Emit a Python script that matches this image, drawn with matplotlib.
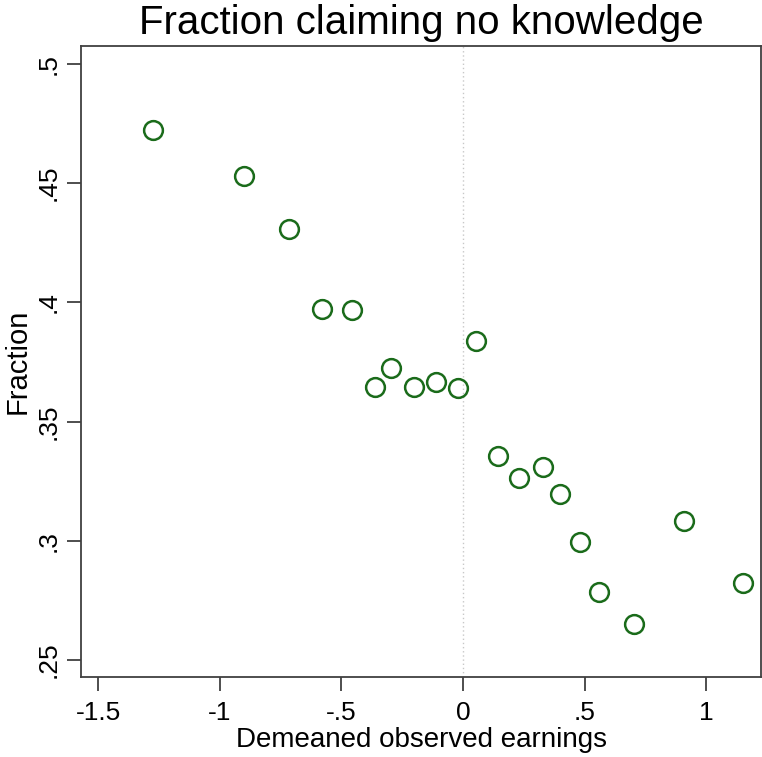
import matplotlib
matplotlib.use("Agg")
import matplotlib.pyplot as plt

x_vals = [-1.275, -0.902, -0.717, -0.578, -0.455, -0.361, -0.295, -0.201, -0.111, -0.020,
          0.053, 0.143, 0.230, 0.328, 0.398, 0.480, 0.561, 0.705, 0.910, 1.152]
y_vals = [0.4724, 0.4531, 0.4309, 0.3974, 0.3970, 0.3643, 0.3723, 0.3647, 0.3664, 0.3639,
          0.3840, 0.3354, 0.3262, 0.3308, 0.3195, 0.2994, 0.2785, 0.2651, 0.3082, 0.2822]
x_ticks = [-1.5, -1, -0.5, 0, 0.5, 1]
x_tick_labels = ["-1.5", "-1", "-.5", "0", ".5", "1"]
y_ticks = [0.25, 0.3, 0.35, 0.4, 0.45, 0.5]
y_tick_labels = [".25", ".3", ".35", ".4", ".45", ".5"]

plt.rcParams['font.family'] = ['Liberation Sans', 'DejaVu Sans']

fig = plt.figure(figsize=(7.62, 7.57), dpi=100)
ax = fig.add_axes([0.1063, 0.1057, 0.8924, 0.8335])

ax.axvline(0, color='#c8c8c8', linestyle=(0, (1, 2)), linewidth=1.0, zorder=1)
ax.plot(x_vals, y_vals, linestyle='none', marker='o', markersize=13.5,
        markerfacecolor='none', markeredgecolor='#1a6b1a', markeredgewidth=1.8, zorder=3)

ax.set_xlim(-1.570, 1.225)
ax.set_ylim(0.2429, 0.5075)
ax.set_xticks(x_ticks)
ax.set_xticklabels(x_tick_labels)
ax.set_yticks(y_ticks)
ax.set_yticklabels(y_tick_labels, rotation=90, va='center')

for s in ax.spines.values():
    s.set_color('#404040')
    s.set_linewidth(1.3)
ax.tick_params(axis='both', direction='out', length=10, width=1.3, color='#404040',
               labelsize=19, labelcolor='black', pad=7)
ax.tick_params(axis='y', pad=5)

ax.set_xlabel('Demeaned observed earnings', fontsize=20, labelpad=2)
ax.set_ylabel('Fraction', fontsize=21, labelpad=3)
ax.set_title('Fraction claiming no knowledge', fontsize=29, pad=9)

fig.savefig('out.png', dpi=100)
